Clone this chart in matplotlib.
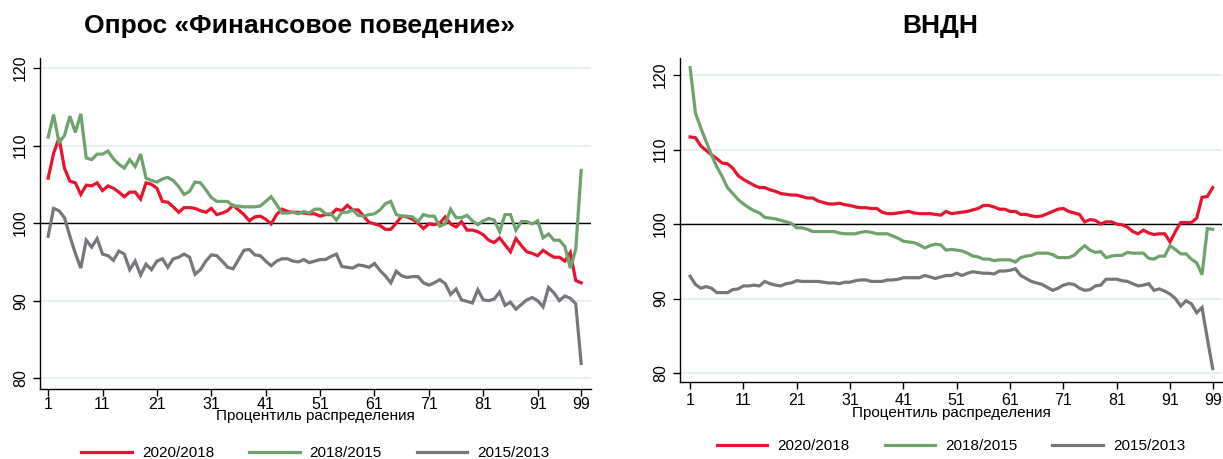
"""Two-panel chart: ratio of income percentiles between survey waves."""
import matplotlib

matplotlib.use("Agg")
import matplotlib.pyplot as plt
import numpy as np

RED = "#e8132f"
GREEN = "#6ea46c"
GRAY = "#77777b"
GRIDLINE = "#e6eff1"
INK = "#000000"

plt.rcParams["font.family"] = ["Liberation Sans", "DejaVu Sans"]

percentile = np.arange(1, 100)
tick_positions = [1, 11, 21, 31, 41, 51, 61, 71, 81, 91, 99]
series_labels = ["2020/2018", "2018/2015", "2015/2013"]
titles = ["Опрос «Финансовое поведение»", "ВНДН"]
xlabel = "Процентиль распределения"

# Survey "Financial behaviour"
fin_2020_2018 = [
    105.8, 109.0, 111.0, 107.1, 105.4, 105.2, 103.7, 104.9, 104.8, 105.2,
    104.2, 104.8, 104.5, 104.0, 103.4, 104.0, 104.0, 103.1, 105.2, 105.0,
    104.5, 102.8, 102.7, 102.1, 101.4, 102.0, 102.0, 101.9, 101.6, 101.4,
    101.9, 101.1, 101.3, 101.6, 102.3, 101.7, 101.1, 100.3, 100.8, 100.9,
    100.5, 99.9, 101.1, 101.8, 101.5, 101.4, 101.4, 101.3, 101.2, 101.2,
    100.9, 101.1, 101.1, 101.8, 101.6, 102.3, 101.7, 101.7, 100.9, 100.1,
    99.9, 99.7, 99.2, 99.2, 100.0, 100.9, 100.8, 100.5, 100.0, 99.3,
    99.9, 99.8, 100.0, 100.8, 99.9, 99.5, 100.2, 99.1, 99.1, 98.9,
    98.5, 97.8, 97.5, 98.1, 97.2, 96.3, 98.0, 97.1, 96.3, 96.1,
    95.8, 96.5, 96.0, 95.6, 95.6, 95.1, 96.2, 92.6, 92.3,
]
fin_2018_2015 = [
    111.1, 114.0, 110.4, 111.3, 113.8, 111.7, 114.1, 108.4, 108.2, 108.9,
    108.9, 109.3, 108.3, 107.6, 107.1, 108.2, 107.3, 108.9, 105.8, 105.5,
    105.3, 105.7, 105.9, 105.5, 104.7, 103.7, 104.1, 105.3, 105.2, 104.3,
    103.3, 102.8, 102.8, 102.8, 102.2, 102.2, 102.1, 102.1, 102.1, 102.2,
    102.8, 103.4, 102.4, 101.3, 101.3, 101.4, 101.2, 101.5, 101.3, 101.8,
    101.8, 101.2, 101.2, 100.4, 101.4, 101.4, 101.7, 101.0, 100.9, 101.1,
    101.2, 101.7, 102.5, 102.8, 101.1, 100.9, 100.9, 100.8, 100.2, 101.1,
    100.9, 100.9, 99.6, 99.9, 101.8, 100.7, 100.7, 101.0, 100.3, 99.8,
    100.3, 100.6, 100.4, 98.9, 101.1, 101.1, 99.1, 100.2, 100.2, 99.9,
    100.3, 98.1, 98.6, 97.8, 97.8, 97.0, 94.2, 96.6, 106.8,
]
fin_2015_2013 = [
    98.3, 101.9, 101.6, 100.7, 98.3, 96.1, 94.2, 97.8, 96.9, 98.0,
    96.0, 95.8, 95.2, 96.4, 96.0, 94.0, 95.1, 93.3, 94.7, 94.0,
    95.1, 95.4, 94.3, 95.4, 95.6, 96.0, 95.6, 93.4, 94.0, 95.1,
    95.9, 95.8, 95.1, 94.3, 94.1, 95.3, 96.5, 96.6, 95.9, 95.8,
    95.1, 94.5, 95.1, 95.4, 95.4, 95.1, 95.0, 95.3, 94.9, 95.1,
    95.3, 95.3, 95.7, 96.0, 94.4, 94.3, 94.2, 94.6, 94.5, 94.3,
    94.8, 93.9, 93.2, 92.3, 93.8, 93.2, 93.0, 93.1, 93.1, 92.3,
    92.0, 92.3, 92.7, 92.2, 90.8, 91.5, 90.1, 89.9, 89.7, 91.4,
    90.1, 90.0, 90.2, 91.1, 89.4, 89.8, 88.9, 89.5, 90.1, 90.4,
    90.0, 89.2, 91.7, 91.0, 90.0, 90.6, 90.3, 89.6, 81.9,
]

# VNDN
vndn_2020_2018 = [
    111.7, 111.6, 110.5, 109.9, 109.3, 108.8, 108.2, 108.1, 107.5, 106.5,
    106.0, 105.6, 105.2, 104.9, 104.9, 104.6, 104.4, 104.1, 104.0, 103.9,
    103.9, 103.7, 103.5, 103.5, 103.1, 102.9, 102.7, 102.7, 102.8, 102.6,
    102.5, 102.3, 102.2, 102.2, 102.1, 102.1, 101.6, 101.4, 101.4, 101.5,
    101.6, 101.7, 101.5, 101.4, 101.4, 101.4, 101.3, 101.2, 101.7, 101.4,
    101.5, 101.6, 101.7, 101.9, 102.1, 102.5, 102.5, 102.3, 102.0, 102.0,
    101.7, 101.7, 101.3, 101.3, 101.1, 101.0, 101.1, 101.4, 101.7, 102.0,
    102.1, 101.7, 101.5, 101.3, 100.3, 100.6, 100.5, 100.0, 100.3, 100.3,
    100.0, 99.9, 99.6, 99.0, 98.7, 99.2, 98.8, 98.6, 98.7, 98.7,
    97.6, 99.0, 100.2, 100.2, 100.2, 100.8, 103.6, 103.7, 104.9,
]
vndn_2018_2015 = [
    121.0, 114.9, 112.9, 111.1, 109.3, 107.7, 106.4, 104.9, 104.1, 103.3,
    102.7, 102.2, 101.8, 101.5, 100.9, 100.8, 100.7, 100.5, 100.3, 100.1,
    99.5, 99.5, 99.3, 99.0, 99.0, 99.0, 99.0, 99.0, 98.8, 98.7,
    98.7, 98.7, 98.9, 99.0, 98.9, 98.7, 98.7, 98.7, 98.4, 98.1,
    97.7, 97.6, 97.5, 97.2, 96.8, 97.1, 97.3, 97.2, 96.5, 96.6,
    96.5, 96.4, 96.1, 95.7, 95.6, 95.3, 95.3, 95.1, 95.2, 95.2,
    95.2, 94.9, 95.5, 95.7, 95.8, 96.1, 96.1, 96.1, 95.9, 95.5,
    95.5, 95.5, 95.8, 96.5, 97.1, 96.5, 96.2, 96.3, 95.5, 95.7,
    95.8, 95.8, 96.2, 96.1, 96.1, 96.1, 95.4, 95.3, 95.7, 95.7,
    97.1, 96.6, 96.0, 96.0, 95.3, 94.8, 93.2, 99.4, 99.3,
]
vndn_2015_2013 = [
    93.0, 91.9, 91.4, 91.6, 91.4, 90.8, 90.8, 90.8, 91.2, 91.3,
    91.7, 91.7, 91.8, 91.7, 92.3, 92.0, 91.8, 91.7, 92.0, 92.1,
    92.4, 92.3, 92.3, 92.3, 92.3, 92.2, 92.1, 92.1, 92.0, 92.2,
    92.2, 92.4, 92.5, 92.5, 92.3, 92.3, 92.3, 92.5, 92.5, 92.6,
    92.8, 92.8, 92.8, 92.8, 93.1, 92.9, 92.7, 92.9, 93.1, 93.1,
    93.4, 93.1, 93.4, 93.6, 93.5, 93.4, 93.4, 93.3, 93.7, 93.7,
    93.8, 94.0, 93.1, 92.7, 92.3, 92.1, 91.9, 91.5, 91.1, 91.4,
    91.8, 92.0, 91.9, 91.4, 91.1, 91.2, 91.7, 91.8, 92.6, 92.6,
    92.6, 92.4, 92.3, 92.0, 91.7, 91.8, 92.0, 91.1, 91.3, 91.0,
    90.6, 90.0, 89.0, 89.7, 89.3, 88.1, 88.8, 84.6, 80.6,
]


def draw_panel(ax, series, ylim, xlim, legend_y, xpad, xlabel_y):
    for values, label, color in zip(series, series_labels, [RED, GREEN, GRAY]):
        ax.plot(percentile, values, color=color, linewidth=2.3, label=label,
                solid_joinstyle="miter", zorder=3)
    ax.axhline(100, color=INK, linewidth=1.0, zorder=2)

    ax.set_ylim(*ylim)
    ax.set_xlim(*xlim)
    ax.set_yticks([80, 90, 100, 110, 120])
    ax.set_xticks(tick_positions)
    ax.grid(axis="y", color=GRIDLINE, linewidth=1.3)
    ax.grid(axis="x", visible=False)
    for spine in ("top", "right"):
        ax.spines[spine].set_visible(False)
    for spine in ("left", "bottom"):
        ax.spines[spine].set_linewidth(1.0)
    ax.tick_params(axis="both", length=5, width=1.0, colors=INK, labelsize=11.5)
    ax.tick_params(axis="x", pad=xpad)
    plt.setp(ax.get_yticklabels(), rotation=90, va="center")
    ax.set_xlabel(xlabel, fontsize=11)
    ax.xaxis.set_label_coords(0.5, xlabel_y)
    ax.legend(loc="center", bbox_to_anchor=(0.5, legend_y), ncol=3, frameon=False,
              fontsize=11, handlelength=3.3, columnspacing=2.3, handletextpad=0.65)


fig = plt.figure(figsize=(12.23, 4.59), dpi=100, facecolor="white")
ax_left = fig.add_axes([0.0327, 0.1525, 0.4505, 0.7211])
ax_right = fig.add_axes([0.556, 0.1678, 0.4432, 0.7058])

draw_panel(ax_left, [fin_2020_2018, fin_2018_2015, fin_2015_2013],
           (78.6, 121.3), (-0.5, 100.8), -0.193, 0.5, -0.061)
draw_panel(ax_right, [vndn_2020_2018, vndn_2018_2015, vndn_2015_2013],
           (78.8, 122.3), (-0.9, 100.75), -0.198, 3.0, -0.074)

fig.text(300 / 1223, 1 - 26 / 459, titles[0], ha="center", va="center",
         fontsize=19, fontweight="bold")
fig.text(940 / 1223, 1 - 26 / 459, titles[1], ha="center", va="center",
         fontsize=19, fontweight="bold")

fig.savefig("out.png", dpi=100, facecolor="white")
